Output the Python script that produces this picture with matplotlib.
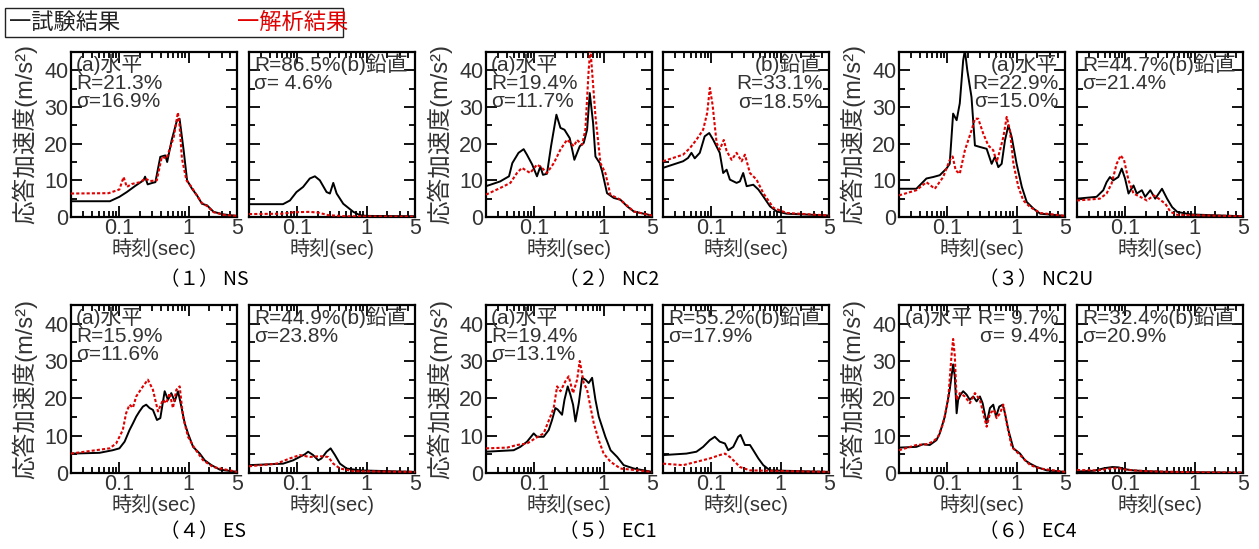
import matplotlib
matplotlib.use('agg')
import matplotlib.pyplot as plt
from matplotlib.patches import Rectangle
from matplotlib.ticker import LogLocator, NullFormatter, MultipleLocator

plt.rcParams['font.family'] = ['Liberation Sans', 'Noto Sans CJK JP']

# ---- データ (周期 sec, 応答加速度 m/s2) ----
# (1) NS
T_NS_H_EXP = [0.02, 0.073, 0.10, 0.128, 0.17, 0.223, 0.235, 0.256, 0.30, 0.331, 0.39, 0.46, 0.49, 0.57, 0.68, 0.74, 0.85, 0.95, 1.12, 1.32, 1.56, 1.84, 2.3, 3.2, 5.0]
A_NS_H_EXP = [4.3, 4.3, 5.5, 6.8, 8.5, 10.0, 11.0, 8.9, 9.3, 9.5, 16.4, 16.8, 15.0, 21.0, 26.4, 26.8, 18.0, 10.0, 7.7, 5.9, 3.6, 3.2, 1.4, 0.7, 0.3]
T_NS_H_ANA = [0.02, 0.07, 0.10, 0.115, 0.128, 0.151, 0.20, 0.235, 0.278, 0.347, 0.41, 0.48, 0.61, 0.70, 0.74, 0.80, 0.93, 1.12, 1.32, 1.56, 1.84, 2.3, 3.2, 5.0]
A_NS_H_ANA = [6.4, 6.5, 7.5, 10.9, 8.2, 9.0, 9.5, 10.5, 9.8, 10.0, 16.4, 16.0, 21.8, 28.5, 25.0, 16.0, 10.0, 8.0, 5.8, 3.8, 3.0, 1.3, 0.6, 0.3]
T_NS_V_EXP = [0.02, 0.062, 0.078, 0.097, 0.121, 0.151, 0.179, 0.211, 0.264, 0.295, 0.33, 0.369, 0.46, 0.643, 0.80, 1.0, 5.0]
A_NS_V_EXP = [3.5, 3.5, 4.5, 6.8, 8.2, 10.5, 11.1, 10.0, 6.8, 6.4, 9.3, 6.4, 3.6, 1.4, 0.5, 0.3, 0.2]
T_NS_V_ANA = [0.02, 0.06, 0.09, 0.15, 0.2, 0.28, 0.5, 5.0]
A_NS_V_ANA = [0.8, 0.9, 1.3, 1.4, 1.2, 0.5, 0.2, 0.1]

# (2) NC2
T_NC2_H_EXP = [0.02, 0.032, 0.043, 0.048, 0.059, 0.070, 0.078, 0.093, 0.109, 0.122, 0.133, 0.152, 0.174, 0.208, 0.238, 0.272, 0.324, 0.378, 0.452, 0.516, 0.577, 0.631, 0.705, 0.762, 0.879, 0.95, 1.12, 1.40, 1.75, 2.19, 2.73, 3.4, 5.0]
A_NC2_H_EXP = [8.4, 9.7, 11.1, 14.7, 17.5, 18.5, 17.0, 14.3, 11.1, 13.8, 11.5, 11.8, 19.3, 27.9, 24.3, 23.8, 21.5, 15.6, 19.3, 20.2, 23.8, 33.8, 25.6, 16.5, 14.7, 12.5, 6.5, 5.2, 4.7, 2.9, 1.5, 1.1, 0.4]
T_NC2_H_ANA = [0.02, 0.032, 0.045, 0.056, 0.066, 0.087, 0.109, 0.129, 0.152, 0.191, 0.238, 0.297, 0.371, 0.414, 0.489, 0.545, 0.609, 0.644, 0.68, 0.762, 0.90, 1.06, 1.25, 1.75, 2.73, 5.0]
A_NC2_H_ANA = [6.1, 7.9, 9.3, 12.0, 13.4, 12.0, 14.3, 13.4, 12.0, 14.7, 18.4, 21.1, 19.3, 21.0, 19.7, 23.8, 40.2, 46.0, 40.0, 27.5, 14.7, 12.0, 6.1, 4.7, 1.5, 0.4]
T_NC2_V_EXP = [0.02, 0.039, 0.046, 0.0515, 0.0575, 0.068, 0.080, 0.093, 0.106, 0.132, 0.148, 0.166, 0.185, 0.231, 0.258, 0.288, 0.323, 0.403, 0.477, 0.562, 0.703, 0.879, 1.22, 5.0]
A_NC2_V_EXP = [13.4, 15.2, 16.1, 17.5, 16.0, 17.5, 22.0, 22.9, 21.1, 17.5, 12.0, 12.9, 10.2, 9.3, 9.7, 12.0, 8.4, 8.8, 7.5, 5.6, 2.9, 1.5, 0.9, 0.4]
T_NC2_V_ANA = [0.02, 0.039, 0.049, 0.061, 0.076, 0.087, 0.095, 0.104, 0.119, 0.132, 0.151, 0.166, 0.196, 0.231, 0.273, 0.305, 0.360, 0.449, 0.562, 0.786, 1.22, 5.0]
A_NC2_V_ANA = [15.2, 17.0, 18.8, 21.1, 23.8, 28.4, 35.2, 30.6, 20.2, 18.4, 21.0, 18.0, 15.6, 17.5, 15.2, 17.0, 12.0, 10.2, 6.5, 2.5, 1.1, 0.4]

# (3) NC2U
T_NC2U_H_EXP = [0.02, 0.0356, 0.0498, 0.0622, 0.0776, 0.097, 0.108, 0.121, 0.136, 0.151, 0.169, 0.179, 0.194, 0.223, 0.25, 0.295, 0.369, 0.436, 0.486, 0.544, 0.608, 0.679, 0.76, 0.849, 1.0, 1.19, 1.40, 1.75, 2.19, 5.0]
A_NC2U_H_EXP = [7.7, 7.7, 10.5, 10.9, 11.4, 13.2, 14.5, 28.2, 26.4, 31.0, 42.7, 45.5, 40.0, 32.7, 19.5, 19.1, 18.6, 14.5, 16.4, 13.6, 14.5, 20.9, 25.0, 21.8, 14.5, 8.2, 4.1, 2.3, 0.9, 0.3]
T_NC2U_H_ANA = [0.02, 0.0356, 0.0498, 0.0658, 0.0869, 0.108, 0.119, 0.132, 0.151, 0.179, 0.223, 0.25, 0.279, 0.33, 0.39, 0.46, 0.515, 0.575, 0.643, 0.719, 0.80, 0.90, 1.06, 1.25, 1.57, 2.19, 5.0]
A_NC2U_H_ANA = [5.9, 7.3, 9.5, 7.7, 10.9, 15.5, 16.5, 12.7, 11.8, 18.2, 23.6, 26.8, 26.8, 22.7, 19.5, 18.2, 15.0, 18.2, 21.8, 27.3, 23.6, 14.5, 8.2, 4.5, 2.7, 1.1, 0.3]
T_NC2U_V_EXP = [0.02, 0.0383, 0.0479, 0.0535, 0.0598, 0.0668, 0.079, 0.0885, 0.0989, 0.111, 0.131, 0.146, 0.173, 0.193, 0.229, 0.27, 0.338, 0.40, 0.473, 0.56, 0.875, 5.0]
A_NC2U_V_EXP = [5.0, 5.5, 7.3, 9.5, 10.9, 10.0, 10.9, 13.2, 10.5, 6.4, 8.6, 6.4, 7.3, 5.5, 7.3, 5.0, 7.7, 5.0, 2.7, 1.4, 0.7, 0.2]
T_NC2U_V_ANA = [0.02, 0.0428, 0.0535, 0.0632, 0.0748, 0.0855, 0.0957, 0.111, 0.131, 0.164, 0.205, 0.256, 0.303, 0.378, 0.448, 0.56, 5.0]
A_NC2U_V_ANA = [4.5, 5.0, 6.4, 9.1, 14.5, 16.8, 15.5, 10.0, 6.4, 5.5, 4.5, 5.9, 5.0, 3.6, 1.4, 0.6, 0.2]

# (4) ES
T_ES_H_EXP = [0.02, 0.0515, 0.080, 0.100, 0.119, 0.140, 0.157, 0.175, 0.195, 0.219, 0.244, 0.273, 0.305, 0.349, 0.39, 0.451, 0.504, 0.562, 0.63, 0.703, 0.785, 0.879, 0.98, 1.16, 1.45, 1.71, 2.14, 2.82, 5.0]
A_ES_H_EXP = [5.2, 5.4, 6.1, 6.6, 8.4, 11.5, 13.3, 15.1, 16.5, 17.8, 18.3, 17.4, 16.9, 14.2, 14.7, 21.9, 19.6, 21.4, 19.2, 21.9, 17.8, 13.3, 10.6, 7.0, 5.2, 3.4, 2.1, 0.9, 0.3]
T_ES_H_ANA = [0.02, 0.072, 0.0897, 0.112, 0.125, 0.140, 0.157, 0.175, 0.219, 0.258, 0.305, 0.361, 0.427, 0.477, 0.532, 0.594, 0.665, 0.743, 0.83, 0.98, 1.22, 1.62, 2.26, 5.0]
A_ES_H_ANA = [5.2, 6.6, 7.9, 11.5, 16.0, 18.3, 17.5, 20.5, 23.2, 25.0, 22.3, 16.5, 19.6, 18.7, 21.4, 17.4, 22.3, 23.2, 15.1, 9.7, 6.6, 3.4, 1.6, 0.3]
T_ES_V_EXP = [0.02, 0.062, 0.0869, 0.108, 0.128, 0.143, 0.169, 0.2, 0.223, 0.264, 0.302, 0.349, 0.412, 0.515, 0.80, 5.0]
A_ES_V_EXP = [2.1, 2.5, 3.4, 4.3, 5.0, 5.7, 4.8, 3.4, 3.9, 5.7, 6.6, 4.8, 2.5, 1.2, 0.7, 0.3]
T_ES_V_ANA = [0.02, 0.0498, 0.0776, 0.108, 0.151, 0.211, 0.279, 0.33, 0.412, 0.643, 5.0]
A_ES_V_ANA = [1.8, 2.5, 3.9, 4.8, 4.3, 4.5, 4.3, 2.5, 1.2, 0.5, 0.3]

# (5) EC1
T_EC1_H_EXP = [0.02, 0.0502, 0.0626, 0.0784, 0.0977, 0.109, 0.136, 0.161, 0.18, 0.201, 0.217, 0.251, 0.272, 0.303, 0.331, 0.362, 0.392, 0.438, 0.489, 0.546, 0.609, 0.682, 0.762, 0.851, 0.95, 1.06, 1.26, 1.57, 1.95, 2.73, 5.0]
A_EC1_H_EXP = [5.7, 6.1, 7.0, 8.4, 10.6, 9.7, 9.7, 11.5, 14.2, 17.4, 17.0, 15.6, 19.6, 23.2, 21.0, 18.3, 13.8, 18.7, 25.5, 25.0, 24.1, 25.5, 19.6, 15.1, 12.4, 9.7, 6.1, 4.3, 2.1, 1.2, 0.3]
T_EC1_H_ANA = [0.02, 0.0403, 0.0561, 0.0784, 0.103, 0.136, 0.17, 0.19, 0.213, 0.238, 0.281, 0.313, 0.362, 0.414, 0.452, 0.516, 0.577, 0.644, 0.721, 0.851, 1.0, 1.26, 1.75, 5.0]
A_EC1_H_ANA = [6.6, 6.8, 7.5, 7.9, 9.3, 10.6, 15.1, 17.4, 23.2, 21.9, 24.6, 25.9, 21.4, 25.0, 30.0, 24.1, 22.3, 17.8, 13.3, 8.8, 5.2, 3.0, 1.2, 0.3]
T_EC1_V_EXP = [0.02, 0.0436, 0.0608, 0.076, 0.0948, 0.112, 0.132, 0.157, 0.175, 0.207, 0.244, 0.264, 0.305, 0.361, 0.403, 0.477, 0.562, 0.703, 5.0]
A_EC1_V_EXP = [4.8, 5.2, 5.7, 7.0, 8.8, 9.7, 8.4, 7.9, 6.1, 7.0, 9.7, 10.2, 7.5, 7.5, 6.1, 3.9, 2.1, 0.7, 0.3]
T_EC1_V_ANA = [0.02, 0.039, 0.0608, 0.0948, 0.132, 0.157, 0.185, 0.219, 0.258, 0.361, 5.0]
A_EC1_V_ANA = [2.5, 2.1, 3.0, 3.9, 4.8, 5.2, 4.3, 3.0, 1.6, 0.7, 0.3]

# (6) EC4
T_EC4_H_EXP = [0.02, 0.0356, 0.0446, 0.0556, 0.0695, 0.0776, 0.0918, 0.108, 0.121, 0.128, 0.136, 0.143, 0.155, 0.169, 0.189, 0.211, 0.236, 0.264, 0.295, 0.323, 0.369, 0.412, 0.46, 0.504, 0.562, 0.63, 0.679, 0.76, 0.897, 1.12, 1.32, 1.57, 1.95, 2.73, 5.0]
A_EC4_H_EXP = [6.8, 7.0, 7.7, 7.5, 8.8, 10.6, 15.1, 22.3, 29.1, 25.9, 16.0, 19.6, 21.0, 21.9, 21.0, 19.6, 20.5, 19.2, 20.5, 18.7, 13.3, 17.4, 18.3, 15.1, 17.8, 18.3, 16.0, 11.5, 6.6, 5.2, 3.4, 2.5, 1.6, 0.7, 0.3]
T_EC4_H_ANA = [0.02, 0.0356, 0.0498, 0.0622, 0.0734, 0.0869, 0.1026, 0.1146, 0.121, 0.128, 0.136, 0.151, 0.179, 0.211, 0.25, 0.295, 0.33, 0.369, 0.412, 0.471, 0.515, 0.575, 0.643, 0.719, 0.849, 1.12, 1.57, 2.19, 5.0]
A_EC4_H_ANA = [6.1, 7.5, 7.7, 8.4, 9.7, 13.3, 19.6, 31.4, 35.9, 31.4, 19.6, 21.4, 20.5, 18.7, 21.4, 19.6, 16.0, 12.4, 16.0, 16.9, 14.7, 16.0, 18.3, 13.3, 7.0, 4.8, 2.1, 1.2, 0.3]
T_EC4_V_EXP = [0.02, 0.035, 0.05, 0.065, 0.08, 0.1, 0.13, 0.2, 0.4, 1.0, 5.0]
A_EC4_V_EXP = [0.4, 0.6, 1.3, 1.6, 1.5, 1.0, 0.7, 0.5, 0.3, 0.2, 0.1]
T_EC4_V_ANA = [0.02, 0.04, 0.06, 0.08, 0.1, 0.15, 0.3, 1.0, 5.0]
A_EC4_V_ANA = [0.8, 0.7, 1.2, 1.3, 0.9, 0.6, 0.4, 0.2, 0.1]

captions = ['（１） NS', '（２） NC2', '（３） NC2U', '（４） ES', '（５） EC1', '（６） EC4']
# 各パネルの注記 (文字列, 右寄せかどうか)
notes = [
    ('(a)水平\nR=21.3%\nσ=16.9%', False), ('R=86.5%(b)鉛直\nσ= 4.6%', False),
    ('(a)水平\nR=19.4%\nσ=11.7%', False), ('(b)鉛直\nR=33.1%\nσ=18.5%', True),
    ('(a)水平\nR=22.9%\nσ=15.0%', True), ('R=44.7%(b)鉛直\nσ=21.4%', False),
    ('(a)水平\nR=15.9%\nσ=11.6%', False), ('R=44.9%(b)鉛直\nσ=23.8%', False),
    ('(a)水平\nR=19.4%\nσ=13.1%', False), ('R=55.2%(b)鉛直\nσ=17.9%', False),
    ('(a)水平 R= 9.7%\nσ= 9.4%', True), ('R=32.4%(b)鉛直\nσ=20.9%', False),
]
series = [
    (T_NS_H_EXP, A_NS_H_EXP, T_NS_H_ANA, A_NS_H_ANA), (T_NS_V_EXP, A_NS_V_EXP, T_NS_V_ANA, A_NS_V_ANA),
    (T_NC2_H_EXP, A_NC2_H_EXP, T_NC2_H_ANA, A_NC2_H_ANA), (T_NC2_V_EXP, A_NC2_V_EXP, T_NC2_V_ANA, A_NC2_V_ANA),
    (T_NC2U_H_EXP, A_NC2U_H_EXP, T_NC2U_H_ANA, A_NC2U_H_ANA), (T_NC2U_V_EXP, A_NC2U_V_EXP, T_NC2U_V_ANA, A_NC2U_V_ANA),
    (T_ES_H_EXP, A_ES_H_EXP, T_ES_H_ANA, A_ES_H_ANA), (T_ES_V_EXP, A_ES_V_EXP, T_ES_V_ANA, A_ES_V_ANA),
    (T_EC1_H_EXP, A_EC1_H_EXP, T_EC1_H_ANA, A_EC1_H_ANA), (T_EC1_V_EXP, A_EC1_V_EXP, T_EC1_V_ANA, A_EC1_V_ANA),
    (T_EC4_H_EXP, A_EC4_H_EXP, T_EC4_H_ANA, A_EC4_H_ANA), (T_EC4_V_EXP, A_EC4_V_EXP, T_EC4_V_ANA, A_EC4_V_ANA),
]

W, H = 1259, 549
TXT = '#333333'
RED = '#e00000'
fig = plt.figure(figsize=(W / 100, H / 100), dpi=100)

def px_axes(left, top, w, h):
    return fig.add_axes([left / W, 1 - (top + h) / H, w / W, h / H])

col_a = [71, 486, 899]
col_b = [249, 663, 1077]
row_top = [52, 305]
row_h = [165, 168]
cap_x = [160, 559, 979]
cap_y = [280, 532]

for g in range(6):
    r, c = divmod(g, 3)
    for k, left in enumerate([col_a[c], col_b[c]]):
        i = g * 2 + k
        ax = px_axes(left, row_top[r], 166, row_h[r])
        te, ae, ta, aa = series[i]
        ax.plot(te, ae, color='black', lw=1.4, zorder=2)
        ax.plot(ta, aa, color=RED, lw=1.5, ls=(0, (1.5, 1.0)), zorder=3)
        ax.set_xscale('log')
        ax.set_xlim(0.02, 5)
        ax.set_ylim(0, 45)
        ax.set_xticks([0.1, 1, 5])
        ax.set_xticklabels(['0.1', '1', '5'])
        ax.xaxis.set_minor_locator(LogLocator(base=10, subs=range(2, 10), numticks=20))
        ax.xaxis.set_minor_formatter(NullFormatter())
        ax.set_yticks([0, 10, 20, 30, 40])
        ax.yaxis.set_minor_locator(MultipleLocator(5))
        ax.tick_params(which='both', direction='in', top=True, right=True,
                       width=1.3, colors='black', labelcolor=TXT, labelsize=15.5, pad=2)
        ax.tick_params(axis='x', which='major', pad=1)
        ax.tick_params(which='major', length=8)
        ax.tick_params(which='minor', length=4)
        for sp in ax.spines.values():
            sp.set_linewidth(1.6)
        if k == 1:
            ax.set_yticklabels([])
        else:
            ax.text(-46 / 166, 0.5, '応答加速度(m/s²)', transform=ax.transAxes, rotation=90,
                    ha='center', va='center', fontsize=17, color=TXT)
        ax.text(0.5, -0.19, '時刻(sec)', transform=ax.transAxes, ha='center', va='center',
                fontsize=14.5, color=TXT)
        txt, right = notes[i]
        if right:
            ax.text(0.96, 0.99, txt, transform=ax.transAxes, ha='right', va='top',
                    multialignment='right', fontsize=15, color=TXT, linespacing=0.95)
        else:
            ax.text(0.03, 0.99, txt, transform=ax.transAxes, ha='left', va='top',
                    fontsize=15, color=TXT, linespacing=0.95)
    fig.text(cap_x[c] / W, 1 - cap_y[r] / H, captions[g], ha='left', va='center',
             fontsize=14, color='black', family=['Noto Sans CJK JP'])

# 凡例
fig.patches.append(Rectangle((5 / W, 1 - 37 / H), 338 / W, 29 / H, transform=fig.transFigure,
                             fill=False, edgecolor='#222222', lw=1.0))
fig.text(9 / W, 1 - 22 / H, '一試験結果', ha='left', va='center', fontsize=16,
         color='#222222', family=['Noto Sans CJK JP'])
fig.text(237 / W, 1 - 22 / H, '一解析結果', ha='left', va='center', fontsize=16,
         color=RED, family=['Noto Sans CJK JP'])

fig.savefig('out.png', dpi=100)
